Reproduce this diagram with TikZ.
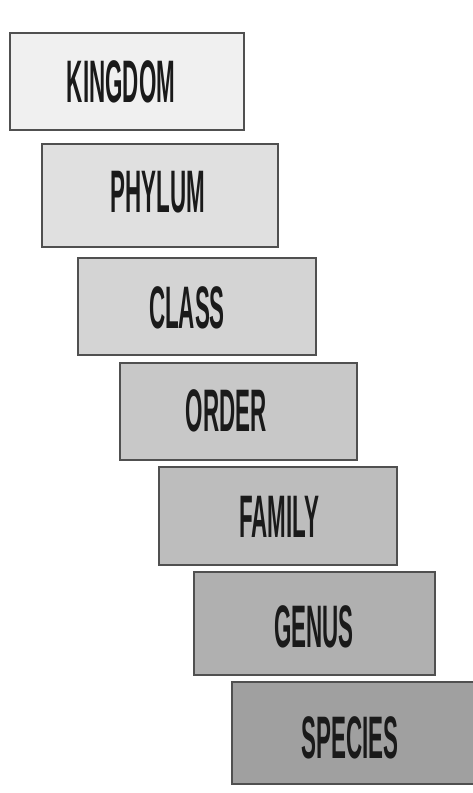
\documentclass[tikz,border=0pt]{standalone}
\usepackage{fontspec}
\newfontfamily\labfont[FakeStretch=0.373]{Liberation Sans}
\definecolor{edge}{HTML}{505050}
\definecolor{ink}{HTML}{1A1A1A}
\definecolor{c1}{HTML}{F0F0F0}
\definecolor{c2}{HTML}{E0E0E0}
\definecolor{c3}{HTML}{D4D4D4}
\definecolor{c4}{HTML}{C8C8C8}
\definecolor{c5}{HTML}{BDBDBD}
\definecolor{c6}{HTML}{B0B0B0}
\definecolor{c7}{HTML}{A0A0A0}
\tikzset{
  rankbox/.style={draw=edge, line width=2pt, inner sep=0pt, rectangle},
  ranktext/.style={text=ink, inner sep=0pt, font=\labfont\bfseries\fontsize{60}{64}\selectfont}
}
\begin{document}
\begin{tikzpicture}[x=1pt,y=-1pt]
\useasboundingbox (0,0) rectangle (472,793);
\fill[white] (0,0) rectangle (472,793);
\node[rankbox, fill=c1, minimum width=234pt, minimum height=97pt] (kingdomBox) at (127,81.5) {};
\node[rankbox, fill=c2, minimum width=236pt, minimum height=103pt] (phylumBox) at (160,195) {};
\node[rankbox, fill=c3, minimum width=238pt, minimum height=97pt] (classBox) at (197,306.5) {};
\node[rankbox, fill=c4, minimum width=237pt, minimum height=97pt] (orderBox) at (238.5,411.5) {};
\node[rankbox, fill=c5, minimum width=238pt, minimum height=98pt] (familyBox) at (278,516) {};
\node[rankbox, fill=c6, minimum width=241pt, minimum height=103pt] (genusBox) at (314.5,623.5) {};
\node[rankbox, fill=c7, minimum width=242pt, minimum height=102pt] (speciesBox) at (353,733) {};
\node[ranktext] (kingdom) at (121,82) {KINGDOM};
\node[ranktext] (phylum) at (158,192) {PHYLUM};
\node[ranktext] (class) at (187,308) {CLASS};
\node[ranktext] (order) at (226,411) {ORDER};
\node[ranktext] (family) at (279,517) {FAMILY};
\node[ranktext] (genus) at (314,627) {GENUS};
\node[ranktext] (species) at (350,738) {SPECIES};
\end{tikzpicture}
\end{document}
